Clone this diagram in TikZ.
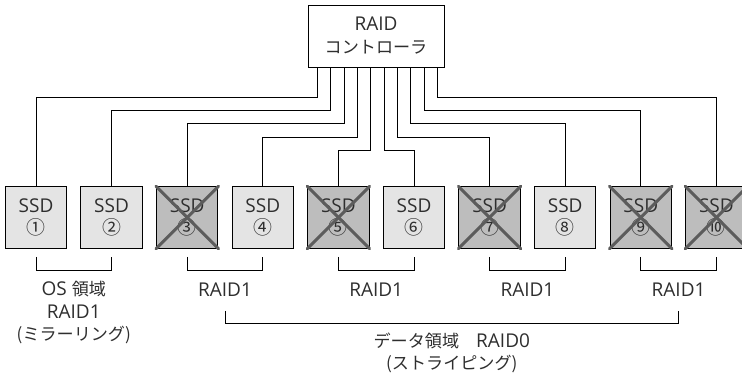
\documentclass[tikz,border=0pt]{standalone}
\usepackage{fontspec}
\setmainfont{Open Sans}
\newfontfamily\jpfont{Noto Sans CJK JP}[Scale=0.9]
\usepackage{xcolor}
\usetikzlibrary{calc}

\definecolor{ssdgray}{HTML}{E4E4E4}
\definecolor{failgray}{HTML}{BDBDBD}
\definecolor{markgray}{HTML}{5C5C5C}
\definecolor{inkgray}{HTML}{2E2E2E}

\begin{document}
\begin{tikzpicture}[
			x=1pt,
			y=-1pt,
			wire/.style={
				line width=0.9pt
			},
			bracket/.style={
				line width=0.9pt
			},
			ctrlbox/.style={
				draw,
				line width=1pt,
				fill=white,
				text=inkgray,
				align=center,
				minimum width=136pt,
				minimum height=62pt,
				inner sep=0pt,
				font=\fontsize{19}{23}\selectfont
			},
			ssdbox/.style={
				draw,
				line width=1pt,
				fill=ssdgray,
				text=inkgray,
				align=center,
				minimum width=61.5pt,
				minimum height=61.5pt,
				inner sep=0pt,
				font=\fontsize{19}{22}\selectfont
			},
			failbox/.style={
				ssdbox,
				fill=failgray
			},
			failmark/.style={
				draw=markgray,
				line width=3pt,
				line cap=round
			},
			caption/.style={
				align=center,
				inner sep=0pt,
				text=inkgray,
				font=\fontsize{19}{22.5}\selectfont
			}
			]
			\useasboundingbox (0,0) rectangle (742,376);
			
			%=====================================================================
			% Controller and drives
			%=====================================================================
			
			\node[ctrlbox] (ctrl) at (376,36)
			{RAID\\{\jpfont コントローラ}};
			
			\foreach \i/\num/\kind in {1/①/ssdbox, 2/②/ssdbox, 3/③/failbox,
				4/④/ssdbox, 5/⑤/failbox, 6/⑥/ssdbox, 7/⑦/failbox,
				8/⑧/ssdbox, 9/⑨/failbox, 10/⑩/failbox}
			{
				\pgfmathsetmacro\cx{36+75.6*(\i-1)}
				\node[\kind] (ssd\i) at (\cx,217.5)
				{SSD\\{\fontsize{21}{22}\jpfont\num}};
			}
			
			%=====================================================================
			% Controller wiring
			%=====================================================================
			
			\foreach \i/\lvl in {1/97, 2/110, 3/123, 4/137, 5/150,
				6/150, 7/137, 8/123, 9/110, 10/97}
			{
				\coordinate (w\i) at ($(ctrl.south west)+({10+13.33*(\i-1)},0)$);
				\draw[wire] (w\i) -- ++(0,{\lvl-67}) -| (ssd\i.north);
			}
			
			% failed drives
			\foreach \i in {3,5,7,9,10}
			{
				\draw[failmark] (ssd\i.north west) -- (ssd\i.south east);
				\draw[failmark] (ssd\i.north east) -- (ssd\i.south west);
			}
			
			%=====================================================================
			% Mirror pairs and stripe
			%=====================================================================
			
			\foreach \a/\b in {1/2, 3/4, 5/6, 7/8, 9/10}
			{
				\draw[bracket]
				($(ssd\a.south)+(0,8)$)
				-- ++(0,14)
				-| ($(ssd\b.south)+(0,8)$);
				\coordinate (pair\a) at ($(ssd\a.south)!0.5!(ssd\b.south)+(0,22)$);
			}
			
			\foreach \a in {3,5,7,9}
			\node[caption] (raid\a) at ($(pair\a)+(0,19)$) {RAID1};
			
			\node[caption] (oslabel) at ($(pair1)+(0,42)$)
			{OS {\jpfont 領域}\\RAID1\\{\jpfont (ミラーリング)}};
			
			\draw[bracket]
			($(pair3)+(0,40)$)
			-- ++(0,13)
			-| ($(pair9)+(0,40)$);
			
			\node[caption, font=\fontsize{19}{22}\selectfont] (datalabel)
			at ($(pair3)!0.5!(pair9)+(0,82)$)
			{{\jpfont データ領域　}RAID0\\{\jpfont (ストライピング)}};
			
		\end{tikzpicture}
\end{document}
